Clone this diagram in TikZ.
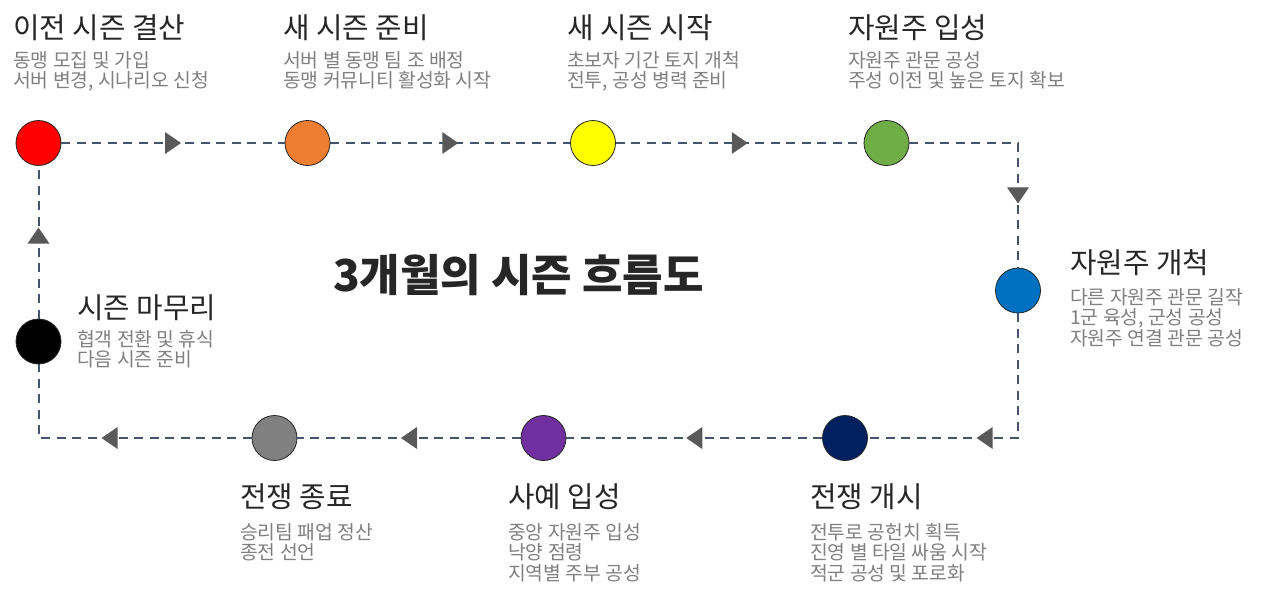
\documentclass[tikz,border=0pt]{standalone}
\usepackage{fontspec}
\setmainfont{Noto Sans CJK KR}
\usetikzlibrary{decorations.markings}
\definecolor{linec}{HTML}{44546A}
\definecolor{arrowc}{HTML}{595959}
\definecolor{titlec}{HTML}{262626}
\definecolor{subc}{HTML}{808080}
\definecolor{cred}{HTML}{FF0000}
\definecolor{corange}{HTML}{ED7D31}
\definecolor{cyellow}{HTML}{FFFF00}
\definecolor{cgreen}{HTML}{70AD47}
\definecolor{cblue}{HTML}{0070C0}
\definecolor{cnavy}{HTML}{002060}
\definecolor{cpurple}{HTML}{7030A0}
\definecolor{cgray}{HTML}{808080}
\begin{document}
\begin{tikzpicture}[x=1pt,y=-1pt,
  dot/.style={circle, draw=black!85, line width=0.8pt, minimum size=45pt, inner sep=0pt},
  conn/.style={draw=linec, line width=2pt, dash pattern=on 9pt off 6.5pt},
  arr/.style={postaction={decorate}, decoration={markings, mark=at position #1 with {\fill[arrowc] (-8,-11) -- (8,0) -- (-8,11) -- cycle;}}},
  ttl/.style={anchor=base west, inner sep=0pt, font=\fontsize{28.8}{32}\selectfont, text=titlec},
  sub/.style={anchor=base west, inner sep=0pt, align=left, font=\fontsize{19.3}{20.5}\selectfont, text=subc}
]
\useasboundingbox[fill=white] (0,0) rectangle (1268,611);

% circles
\node[dot, fill=cred]    (c1) at (38.5,143) {};
\node[dot, fill=corange] (c2) at (307.5,143) {};
\node[dot, fill=cyellow] (c3) at (593,143) {};
\node[dot, fill=cgreen]  (c4) at (886.5,143) {};
\node[dot, fill=cblue]   (c5) at (1018,290.5) {};
\node[dot, fill=cnavy]   (c6) at (845,438) {};
\node[dot, fill=cpurple] (c7) at (543.5,438) {};
\node[dot, fill=cgray]   (c8) at (274.5,438) {};
\node[dot, fill=black]   (c9) at (38.5,341.5) {};

% connectors
\draw[conn, arr=0.5] (c1) -- (c2);
\draw[conn, arr=0.5] (c2) -- (c3);
\draw[conn, arr=0.5] (c3) -- (c4);
\draw[conn, arr=161pt] (c4) -| (c5);
\draw[conn, arr=158pt] (c5) |- (c6);
\draw[conn, arr=0.5] (c6) -- (c7);
\draw[conn, arr=0.5] (c7) -- (c8);
\draw[conn, arr=142pt] (c8) -| (c9);
\draw[conn, arr=83pt] (c9) -- (c1);

% center title
\node[inner sep=0pt, text=titlec, font=\fontsize{44}{50}\selectfont\bfseries] (main) at (518.5,275) {3개월의 시즌 흐름도};

% labels (sub nodes anchored at the baseline of their last line)
\node[ttl] (t1) at (13,38) {이전 시즌 결산};
\node[sub] (s1) at (13,87.5) {동맹 모집 및 가입\\서버 변경, 시나리오 신청};
\node[ttl] (t2) at (283,38) {새 시즌 준비};
\node[sub] (s2) at (283,87.5) {서버 별 동맹 팀 조 배정\\동맹 커뮤니티 활성화 시작};
\node[ttl] (t3) at (567,38) {새 시즌 시작};
\node[sub] (s3) at (567,87.5) {초보자 기간 토지 개척\\전투, 공성 병력 준비};
\node[ttl] (t4) at (848,38) {자원주 입성};
\node[sub] (s4) at (848,87.5) {자원주 관문 공성\\주성 이전 및 높은 토지 확보};
\node[ttl] (t5) at (1070,273) {자원주 개척};
\node[sub] (s5) at (1070,345) {다른 자원주 관문 길작\\1군 육성, 군성 공성\\자원주 연결 관문 공성};
\node[ttl] (t6) at (77,318) {시즌 마무리};
\node[sub] (s6) at (77,366.5) {협객 전환 및 휴식\\다음 시즌 준비};
\node[ttl] (t7) at (240,507) {전쟁 종료};
\node[sub] (s7) at (240,559.5) {승리팀 패업 정산\\종전 선언};
\node[ttl] (t8) at (508,507) {사예 입성};
\node[sub] (s8) at (508,580) {중앙 자원주 입성\\낙양 점령\\지역별 주부 공성};
\node[ttl] (t9) at (810,507) {전쟁 개시};
\node[sub] (s9) at (810,580) {전투로 공헌치 획득\\진영 별 타일 싸움 시작\\적군 공성 및 포로화};
\end{tikzpicture}
\end{document}
